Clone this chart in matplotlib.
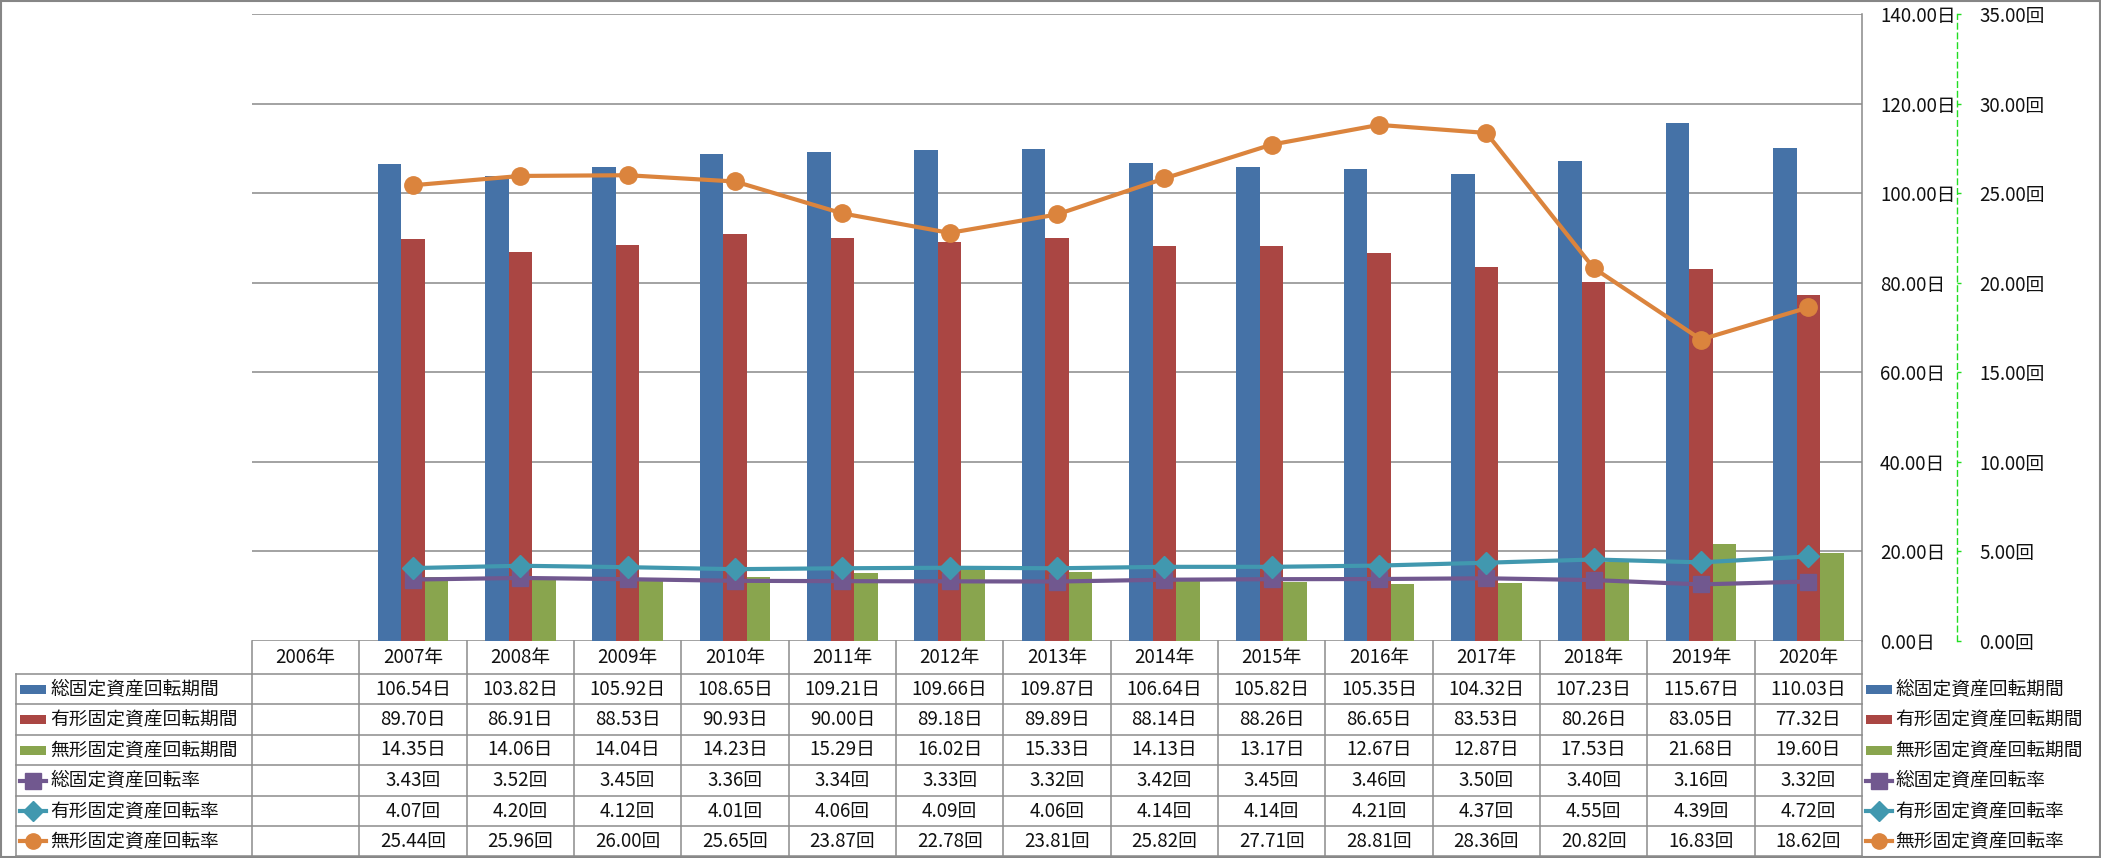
import matplotlib
matplotlib.use('Agg')
import matplotlib.pyplot as plt
import matplotlib.transforms as mtrans
from matplotlib.lines import Line2D
from matplotlib.patches import Rectangle
import numpy as np

plt.rcParams['font.family'] = ['Noto Sans CJK JP', 'DejaVu Sans']

# ---------------- data ----------------
years = ['2006年', '2007年', '2008年', '2009年', '2010年', '2011年', '2012年', '2013年',
         '2014年', '2015年', '2016年', '2017年', '2018年', '2019年', '2020年']

total_days = [None, 106.54, 103.82, 105.92, 108.65, 109.21, 109.66, 109.87,
              106.64, 105.82, 105.35, 104.32, 107.23, 115.67, 110.03]
tangible_days = [None, 89.70, 86.91, 88.53, 90.93, 90.00, 89.18, 89.89,
                 88.14, 88.26, 86.65, 83.53, 80.26, 83.05, 77.32]
intangible_days = [None, 14.35, 14.06, 14.04, 14.23, 15.29, 16.02, 15.33,
                   14.13, 13.17, 12.67, 12.87, 17.53, 21.68, 19.60]
total_rate = [None, 3.43, 3.52, 3.45, 3.36, 3.34, 3.33, 3.32,
              3.42, 3.45, 3.46, 3.50, 3.40, 3.16, 3.32]
tangible_rate = [None, 4.07, 4.20, 4.12, 4.01, 4.06, 4.09, 4.06,
                 4.14, 4.14, 4.21, 4.37, 4.55, 4.39, 4.72]
intangible_rate = [None, 25.44, 25.96, 26.00, 25.65, 23.87, 22.78, 23.81,
                   25.82, 27.71, 28.81, 28.36, 20.82, 16.83, 18.62]

series_names = ['総固定資産回転期間', '有形固定資産回転期間', '無形固定資産回転期間',
                '総固定資産回転率', '有形固定資産回転率', '無形固定資産回転率']

left_ticks = [0, 20, 40, 60, 80, 100, 120, 140]
right_ticks = [0, 5, 10, 15, 20, 25, 30, 35]

# ---------------- styles ----------------
C_BLUE = '#4572A7'
C_RED = '#AA4643'
C_GREEN = '#89A54E'
C_PURPLE = '#71588F'
C_TEAL = '#4198AF'
C_ORANGE = '#DB843D'
GRID = '#898989'
FS = 13.5

W, H = 2101, 858
fig = plt.figure(figsize=(W / 100, H / 100), dpi=100)


def fx(px):
    return px / W


def fy(py):
    return 1 - py / H


PL, PR, PT, PB = 252, 1862, 14, 641
ax = fig.add_axes([fx(PL), fy(PB), fx(PR) - fx(PL), fy(PT) - fy(PB)])

x = np.arange(len(years))


def arr(v):
    return np.array([np.nan if a is None else a for a in v], dtype=float)


bar_w = 0.22
for k, (vals, col) in enumerate([(total_days, C_BLUE), (tangible_days, C_RED),
                                 (intangible_days, C_GREEN)]):
    ax.bar(x + (k - 1) * bar_w, arr(vals), width=bar_w, color=col, zorder=2,
           linewidth=0)

ax.set_xlim(-0.5, len(years) - 0.5)
ax.set_ylim(0, 140)
ax.set_xticks([])
ax.grid(axis='y', color=GRID, linewidth=1.1, zorder=0)
ax.set_axisbelow(True)
ax.patch.set_alpha(0)

ax2 = ax.twinx()
ax2.set_ylim(0, 35)
ax2.set_yticks(right_ticks)
ax2.set_yticklabels([f'{t:.2f}回' for t in right_ticks])
for s in ['left', 'top', 'bottom']:
    ax2.spines[s].set_visible(False)
ax2.spines['right'].set_position(('axes', (1957 - PL) / (PR - PL)))
ax2.spines['right'].set_color('#22DD22')
ax2.spines['right'].set_linestyle((0, (4, 3)))
ax2.spines['right'].set_linewidth(1.0)
ax2.tick_params(axis='y', length=3, width=1, color='#22DD22', pad=13,
                labelsize=FS, labelcolor='#111111')

# primary axis labels on the right (after twinx)
ax.yaxis.tick_right()
ax.yaxis.set_label_position('right')
ax.set_yticks(left_ticks)
ax.set_yticklabels([f'{t:.2f}日' for t in left_ticks])
ax.tick_params(axis='y', which='both', left=False, labelleft=False,
               right=False, labelright=True, length=0, pad=13,
               labelsize=FS, labelcolor='#111111')
for s in ['left', 'top', 'bottom']:
    ax.spines[s].set_visible(False)
ax.spines['right'].set_visible(True)
ax.spines['right'].set_color(GRID)
ax.spines['right'].set_linewidth(1.1)

line_specs = [(total_rate, C_PURPLE, 's', 11.5),
              (tangible_rate, C_TEAL, 'D', 11.5),
              (intangible_rate, C_ORANGE, 'o', 12.5)]
for vals, col, mk, ms in line_specs:
    ax2.plot(x, arr(vals), color=col, lw=3, marker=mk, ms=ms,
             markeredgecolor=col, zorder=3)

# ---------------- data table ----------------
TBL = '#8c8c8c'
trans = mtrans.blended_transform_factory(ax.transData, fig.transFigure)
row_edges = [674, 704, 735, 765, 796, 826, 856]
header_y = (641 + 674) / 2
row_centers = [(row_edges[i] + row_edges[i + 1]) / 2 for i in range(6)]

for yv in row_edges:
    fig.add_artist(Line2D([fx(16), fx(PR)], [fy(yv), fy(yv)], color=TBL, lw=1.1))
fig.add_artist(Line2D([fx(16), fx(16)], [fy(674), fy(856)], color=TBL, lw=1.1))
for b in np.arange(len(years) + 1) - 0.5:
    fig.add_artist(Line2D([b, b], [fy(641), fy(856)], color=TBL, lw=1.1,
                          transform=trans))

for i, yr in enumerate(years):
    fig.text(i, fy(header_y), yr, transform=trans, ha='center', va='center',
             fontsize=FS, color='#111111')

all_vals = [total_days, tangible_days, intangible_days,
            total_rate, tangible_rate, intangible_rate]
units = ['日', '日', '日', '回', '回', '回']
for r, (vals, u) in enumerate(zip(all_vals, units)):
    for i, v in enumerate(vals):
        if v is None:
            continue
        fig.text(i, fy(row_centers[r]), f'{v:.2f}{u}', transform=trans,
                 ha='center', va='center', fontsize=FS, color='#111111')

key_cols = [C_BLUE, C_RED, C_GREEN, C_PURPLE, C_TEAL, C_ORANGE]
key_marks = [None, None, None, 's', 'D', 'o']


def draw_key(x0, x1, yc, col, mk):
    if mk is None:
        fig.add_artist(Rectangle((fx(x0), fy(yc + 4.5)), fx(x1) - fx(x0),
                                 fy(yc - 4.5) - fy(yc + 4.5), transform=fig.transFigure,
                                 color=col, lw=0))
    else:
        fig.add_artist(Line2D([fx(x0), fx(x1)], [fy(yc), fy(yc)], color=col, lw=3,
                              transform=fig.transFigure))
        fig.add_artist(Line2D([fx((x0 + x1) / 2)], [fy(yc)], color=col, marker=mk,
                              ms=11 if mk != 'D' else 10, lw=0,
                              transform=fig.transFigure))


for r, name in enumerate(series_names):
    yc = row_centers[r]
    draw_key(20, 46, yc, key_cols[r], key_marks[r])
    fig.text(fx(50), fy(yc), name, ha='left', va='center', fontsize=FS,
             color='#111111')
    draw_key(1866, 1892, yc, key_cols[r], key_marks[r])
    fig.text(fx(1895), fy(yc), name, ha='left', va='center', fontsize=FS,
             color='#111111')

fig.add_artist(Rectangle((0.0005, 0.001), 0.999, 0.998, transform=fig.transFigure,
                         fill=False, ec='#868686', lw=1.5))

fig.savefig('out.png', dpi=100)
